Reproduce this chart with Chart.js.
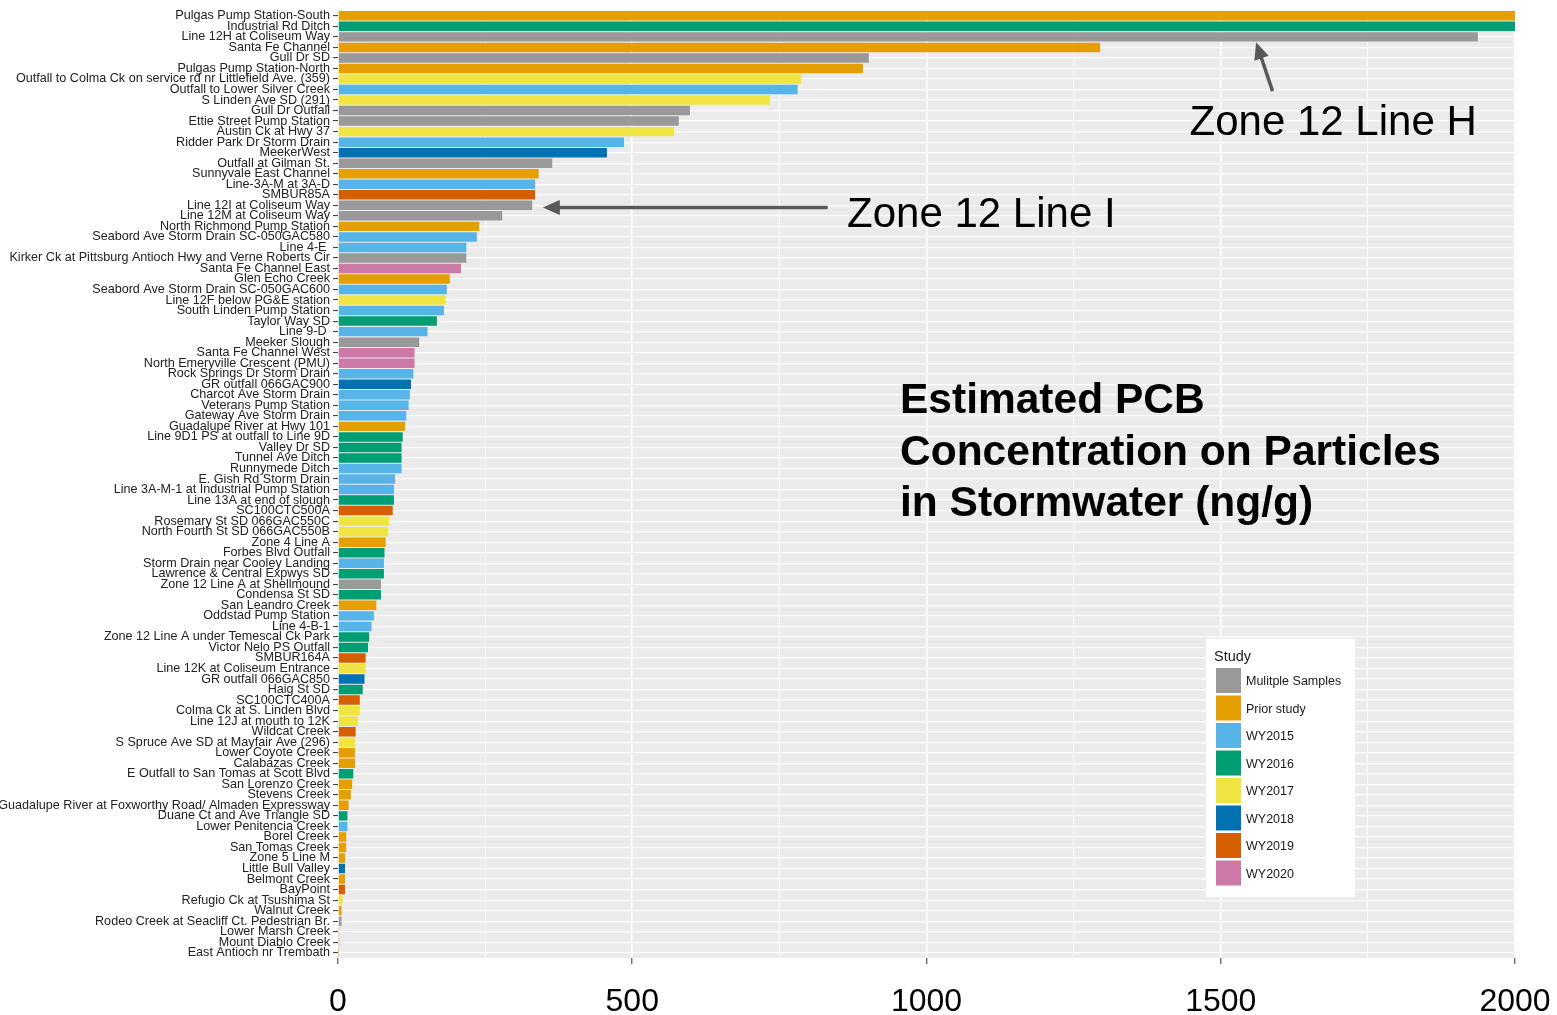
<!DOCTYPE html>
<html>
<head>
<meta charset="utf-8">
<script src="https://cdn.jsdelivr.net/npm/chart.js@4.4.1/dist/chart.umd.min.js"></script>
<style>
  html, body { margin: 0; padding: 0; background: #fff; }
  #wrap { width: 1557px; height: 1015px; position: relative; }
</style>
</head>
<body>
<div id="wrap"><canvas id="pcb"></canvas></div>
<script>
const sites = [
  'Pulgas Pump Station-South', 'Industrial Rd Ditch', 'Line 12H at Coliseum Way', 'Santa Fe Channel',
  'Gull Dr SD', 'Pulgas Pump Station-North', 'Outfall to Colma Ck on service rd nr Littlefield Ave. (359)',
  'Outfall to Lower Silver Creek', 'S Linden Ave SD (291)', 'Gull Dr Outfall', 'Ettie Street Pump Station',
  'Austin Ck at Hwy 37', 'Ridder Park Dr Storm Drain', 'MeekerWest', 'Outfall at Gilman St.',
  'Sunnyvale East Channel', 'Line-3A-M at 3A-D', 'SMBUR85A', 'Line 12I at Coliseum Way',
  'Line 12M at Coliseum Way', 'North Richmond Pump Station', 'Seabord Ave Storm Drain SC-050GAC580',
  'Line 4-E ', 'Kirker Ck at Pittsburg Antioch Hwy and Verne Roberts Cir', 'Santa Fe Channel East',
  'Glen Echo Creek', 'Seabord Ave Storm Drain SC-050GAC600', 'Line 12F below PG&E station',
  'South Linden Pump Station', 'Taylor Way SD', 'Line 9-D ', 'Meeker Slough', 'Santa Fe Channel West',
  'North Emeryville Crescent (PMU)', 'Rock Springs Dr Storm Drain', 'GR outfall 066GAC900',
  'Charcot Ave Storm Drain', 'Veterans Pump Station', 'Gateway Ave Storm Drain',
  'Guadalupe River at Hwy 101', 'Line 9D1 PS at outfall to Line 9D', 'Valley Dr SD', 'Tunnel Ave Ditch',
  'Runnymede Ditch', 'E. Gish Rd Storm Drain', 'Line 3A-M-1 at Industrial Pump Station',
  'Line 13A at end of slough', 'SC100CTC500A', 'Rosemary St SD 066GAC550C', 'North Fourth St SD 066GAC550B',
  'Zone 4 Line A', 'Forbes Blvd Outfall', 'Storm Drain near Cooley Landing', 'Lawrence & Central Expwys SD',
  'Zone 12 Line A at Shellmound', 'Condensa St SD', 'San Leandro Creek', 'Oddstad Pump Station',
  'Line 4-B-1', 'Zone 12 Line A under Temescal Ck Park', 'Victor Nelo PS Outfall', 'SMBUR164A',
  'Line 12K at Coliseum Entrance', 'GR outfall 066GAC850', 'Haig St SD', 'SC100CTC400A',
  'Colma Ck at S. Linden Blvd', 'Line 12J at mouth to 12K', 'Wildcat Creek',
  'S Spruce Ave SD at Mayfair Ave (296)', 'Lower Coyote Creek', 'Calabazas Creek',
  'E Outfall to San Tomas at Scott Blvd', 'San Lorenzo Creek', 'Stevens Creek',
  'Guadalupe River at Foxworthy Road/ Almaden Expressway', 'Duane Ct and Ave Triangle SD',
  'Lower Penitencia Creek', 'Borel Creek', 'San Tomas Creek', 'Zone 5 Line M', 'Little Bull Valley',
  'Belmont Creek', 'BayPoint', 'Refugio Ck at Tsushima St', 'Walnut Creek',
  'Rodeo Creek at Seacliff Ct. Pedestrian Br.', 'Lower Marsh Creek', 'Mount Diablo Creek',
  'East Antioch nr Trembath'
];

// ng/g (top two run past the axis end)
const pcb = [
  2000, 2000, 1937, 1295, 902, 892, 787, 781, 734, 598,
  579, 571, 486, 457, 364, 341, 335, 335, 330, 279,
  240, 236, 218, 218, 209, 190, 185, 183, 180, 168,
  152, 138, 130, 130, 128, 124, 122, 120, 116, 114,
  110, 108, 108, 108, 97, 95, 95, 93, 87, 85,
  81, 79, 78, 78, 73, 73, 65, 61, 57, 53,
  51, 47, 47, 45, 42, 37, 37, 34, 30, 29,
  29, 29, 26, 24, 22, 18, 16, 16, 14, 14,
  12, 12, 12, 12, 8, 6, 6, 2, 2, 0.5
];

const study = [
  'Prior study', 'WY2016', 'Mulitple Samples', 'Prior study', 'Mulitple Samples', 'Prior study', 'WY2017', 'WY2015', 'WY2017', 'Mulitple Samples',
  'Mulitple Samples', 'WY2017', 'WY2015', 'WY2018', 'Mulitple Samples', 'Prior study', 'WY2015', 'WY2019', 'Mulitple Samples', 'Mulitple Samples',
  'Prior study', 'WY2015', 'WY2015', 'Mulitple Samples', 'WY2020', 'Prior study', 'WY2015', 'WY2017', 'WY2015', 'WY2016',
  'WY2015', 'Mulitple Samples', 'WY2020', 'WY2020', 'WY2015', 'WY2018', 'WY2015', 'WY2015', 'WY2015', 'Prior study',
  'WY2016', 'WY2016', 'WY2016', 'WY2015', 'WY2015', 'WY2015', 'WY2016', 'WY2019', 'WY2017', 'WY2017',
  'Prior study', 'WY2016', 'WY2015', 'WY2016', 'Mulitple Samples', 'WY2016', 'Prior study', 'WY2015', 'WY2015', 'WY2016',
  'WY2016', 'WY2019', 'WY2017', 'WY2018', 'WY2016', 'WY2019', 'WY2017', 'WY2017', 'WY2019', 'WY2017',
  'Prior study', 'Prior study', 'WY2016', 'Prior study', 'Prior study', 'Prior study', 'WY2016', 'WY2015', 'Prior study', 'Prior study',
  'Prior study', 'WY2018', 'Prior study', 'WY2019', 'WY2017', 'Prior study', 'Mulitple Samples', 'Prior study', 'WY2019', 'Prior study'
];

const studies = ['Mulitple Samples', 'Prior study', 'WY2015', 'WY2016', 'WY2017', 'WY2018', 'WY2019', 'WY2020'];
const studyColors = ['#999999', '#E69F00', '#56B4E9', '#009E73', '#F0E442', '#0072B2', '#D55E00', '#CC79A7'];

const xTicks = [0, 500, 1000, 1500, 2000];
const titleLines = ['Estimated PCB', 'Concentration on Particles', 'in Stormwater (ng/g)'];

// arrows point at bars: [x value, category index]
const callouts = [
  { label: 'Zone 12 Line H', tip: [1560, 2.5], tail: [1588, 7.15], text: [1447, 11.3] },
  { label: 'Zone 12 Line I', tip: [348, 18.2], tail: [832, 18.2], text: [865, 20.05] }
];

const FONT = '"Liberation Sans", Arial, sans-serif';

function arrow(ctx, x0, y0, x1, y1) {
  const a = Math.atan2(y1 - y0, x1 - x0), L = 17, W = 7.5;
  const c = Math.cos(a), s = Math.sin(a);
  ctx.save();
  ctx.strokeStyle = ctx.fillStyle = '#595959';
  ctx.lineWidth = 3.5;
  ctx.beginPath();
  ctx.moveTo(x0, y0);
  ctx.lineTo(x1 - L * 0.8 * c, y1 - L * 0.8 * s);
  ctx.stroke();
  ctx.beginPath();
  ctx.moveTo(x1, y1);
  ctx.lineTo(x1 - L * c + W * s, y1 - L * s - W * c);
  ctx.lineTo(x1 - L * c - W * s, y1 - L * s + W * c);
  ctx.closePath();
  ctx.fill();
  ctx.restore();
}

const panelBg = {
  id: 'panelBg',
  beforeDraw(chart) {
    const { ctx, chartArea: a } = chart;
    ctx.save();
    ctx.fillStyle = '#EBEBEB';
    ctx.fillRect(a.left, a.top, a.right - a.left, a.bottom - a.top);
    ctx.restore();
  }
};

const overlay = {
  id: 'overlay',
  afterDraw(chart) {
    const { ctx } = chart;
    const xs = chart.scales.x, ys = chart.scales.y;

    callouts.forEach(c => {
      arrow(ctx, xs.getPixelForValue(c.tail[0]), ys.getPixelForValue(c.tail[1]),
                 xs.getPixelForValue(c.tip[0]), ys.getPixelForValue(c.tip[1]));
      ctx.save();
      ctx.fillStyle = '#000';
      ctx.font = '42px ' + FONT;
      ctx.textBaseline = 'alphabetic';
      ctx.fillText(c.label, xs.getPixelForValue(c.text[0]), ys.getPixelForValue(c.text[1]));
      ctx.restore();
    });

    // title block
    ctx.save();
    ctx.fillStyle = '#000';
    ctx.font = 'bold 42.5px ' + FONT;
    ctx.textBaseline = 'alphabetic';
    titleLines.forEach((t, i) => ctx.fillText(t, 900, 413 + i * 51.5));
    ctx.restore();

    // legend
    const lx = 1206, ly = 639;
    ctx.save();
    ctx.fillStyle = '#fff';
    ctx.fillRect(lx, ly, 149, 258);
    ctx.fillStyle = '#1a1a1a';
    ctx.font = '14.5px ' + FONT;
    ctx.textBaseline = 'middle';
    ctx.fillText('Study', lx + 8, ly + 18);
    ctx.font = '12.5px ' + FONT;
    studies.forEach((s, i) => {
      const y = ly + 29 + i * 27.5;
      ctx.fillStyle = studyColors[i];
      ctx.fillRect(lx + 10, y, 25, 25);
      ctx.fillStyle = '#1a1a1a';
      ctx.fillText(s, lx + 40, y + 14);
    });
    ctx.restore();
  }
};

new Chart(document.getElementById('pcb'), {
  type: 'bar',
  data: {
    labels: sites,
    datasets: [{
      data: pcb,
      backgroundColor: study.map(s => studyColors[studies.indexOf(s)]),
      borderWidth: 0,
      barPercentage: 0.9,
      categoryPercentage: 1.0
    }]
  },
  options: {
    indexAxis: 'y',
    responsive: true,
    maintainAspectRatio: false,
    animation: false,
    layout: { padding: { top: 8, right: 42, left: 0, bottom: 0 } },
    scales: {
      x: {
        type: 'linear', min: 0, max: 2000,
        grid: {
          color: '#fff',
          lineWidth: c => (c.tick && c.tick.value % 500 === 0 ? 1.6 : 0.8),
          tickLength: 6,
          tickWidth: 1,
          tickColor: c => (c.tick && c.tick.value % 500 === 0 ? '#333' : 'rgba(0,0,0,0)')
        },
        border: { display: false },
        ticks: {
          stepSize: 250, autoSkip: false, maxRotation: 0, padding: 19,
          color: '#000', font: { size: 32, family: FONT },
          callback: v => (xTicks.includes(v) ? v : '')
        },
        afterFit: s => { s.height = 57; s.paddingLeft = 0; s.paddingRight = 0; }
      },
      y: {
        grid: { color: '#fff', lineWidth: 1.2, offset: false, tickLength: 5, tickWidth: 1, tickColor: '#333' },
        border: { display: false },
        ticks: { autoSkip: false, padding: 3, color: '#222', font: { size: 12.6, family: FONT } },
        afterFit: s => { s.width = 338; }
      }
    },
    plugins: { legend: { display: false }, tooltip: { enabled: false } }
  },
  plugins: [panelBg, overlay]
});
</script>
</body>
</html>
